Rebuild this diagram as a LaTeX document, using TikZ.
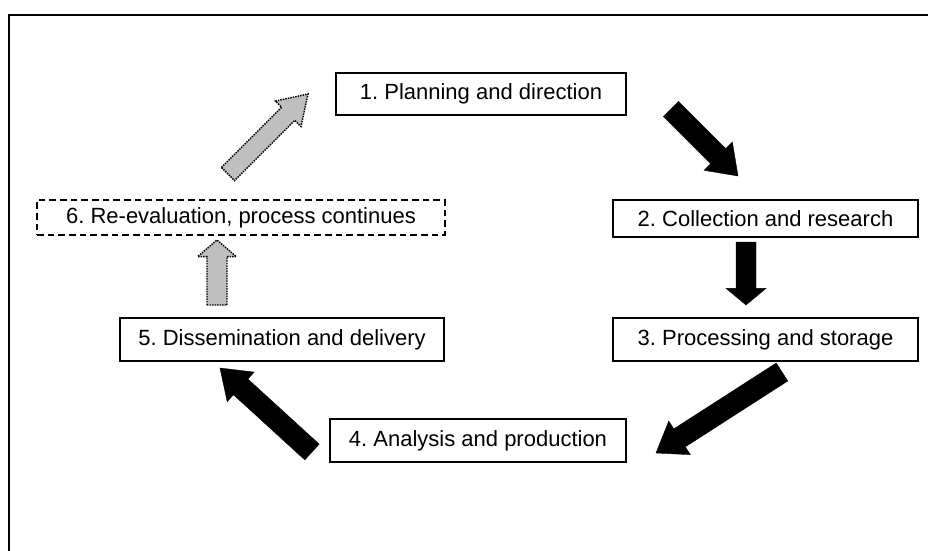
\documentclass[tikz,border=0pt]{standalone}
\usepackage{fontspec}
\setmainfont{Liberation Sans}
\usetikzlibrary{calc}
\frenchspacing

% Block arrow from tail #2 to tip #3: shaft half width #4, head half width #5, head length #6
\newcommand\blockarrow[6]{%
  \coordinate (ba-h) at ($(#3)!#6!(#2)$);
  \draw[#1] ($(#2)!#4!90:(#3)$) -- ($(ba-h)!#4!90:(#3)$) -- ($(ba-h)!#5!90:(#3)$)
    -- (#3) -- ($(ba-h)!#5!-90:(#3)$) -- ($(ba-h)!#4!-90:(#3)$)
    -- ($(#2)!#4!-90:(#3)$) -- cycle;
}

\tikzset{
  stagebox/.style={draw=black, line width=1.1pt, inner sep=0pt,
    font=\fontsize{16.5pt}{19pt}\selectfont},
  solidarrow/.style={fill=black, draw=black, line width=0.3pt, line join=miter},
  softarrow/.style={fill=black!25, draw=black, line width=1.1pt,
    dash pattern=on 1.1pt off 0.8pt},
}

\begin{document}
\begin{tikzpicture}[x=0.75pt, y=-0.75pt]
  \useasboundingbox (0,0) rectangle (928,550);
  \clip (0,0) rectangle (928,550);

  % outer frame
  \draw[line width=1.3pt] (9,600) -- (9,15) -- (1000,15);

  % stages
  \node[stagebox, minimum width=290*0.75pt, minimum height=42*0.75pt] (plan) at (481,94) {1. Planning and direction};
  \node[stagebox, minimum width=305*0.75pt, minimum height=37*0.75pt] (coll) at (765.5,218.5) {2. Collection and research};
  \node[stagebox, minimum width=305*0.75pt, minimum height=43*0.75pt] (proc) at (765.5,339.5) {3. Processing and storage};
  \node[stagebox, minimum width=296*0.75pt, minimum height=43*0.75pt] (anal) at (478,440.5) {4. Analysis and production};
  \node[stagebox, minimum width=324*0.75pt, minimum height=43*0.75pt] (diss) at (282,339.5) {5. Dissemination and delivery};
  \node[stagebox, dash pattern=on 5pt off 3pt, line width=1.1pt,
        minimum width=408*0.75pt, minimum height=35*0.75pt] (reev) at (241,217.5) {6. Re-evaluation, process continues};

  % arrow ends
  \coordinate (a1t) at (671,109);  \coordinate (a1h) at (738,176);
  \coordinate (a2t) at (746,242);  \coordinate (a2h) at (746,305);
  \coordinate (a3t) at (782,372);  \coordinate (a3h) at (656,453);
  \coordinate (a4t) at (312,452);  \coordinate (a4h) at (220,368);
  \coordinate (a5t) at (217,305);  \coordinate (a5h) at (217,240);
  \coordinate (a6t) at (228,174);  \coordinate (a6h) at (308,94);

  \blockarrow{solidarrow}{a1t}{a1h}{8pt}{15pt}{21pt}
  \blockarrow{solidarrow}{a2t}{a2h}{7.5pt}{15pt}{12.5pt}
  \blockarrow{solidarrow}{a3t}{a3h}{8pt}{15pt}{21pt}
  \blockarrow{solidarrow}{a4t}{a4h}{8pt}{15pt}{21pt}
  \blockarrow{softarrow}{a5t}{a5h}{7.5pt}{14.5pt}{12.5pt}
  \blockarrow{softarrow}{a6t}{a6h}{7pt}{13.5pt}{21pt}
\end{tikzpicture}
\end{document}
